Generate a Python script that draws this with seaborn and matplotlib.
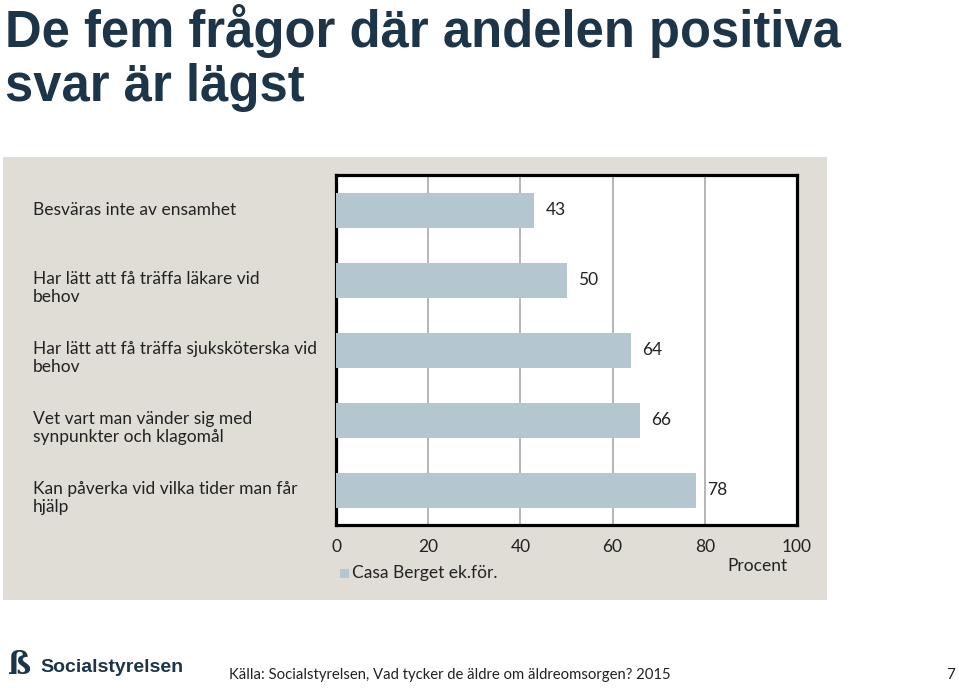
import matplotlib
matplotlib.use("Agg")
import matplotlib.pyplot as plt
import seaborn as sns
import pandas as pd
from matplotlib.patches import Rectangle

categories = [
    "Besväras inte av ensamhet",
    "Har lätt att få träffa läkare vid\nbehov",
    "Har lätt att få träffa sjuksköterska vid\nbehov",
    "Vet vart man vänder sig med\nsynpunkter och klagomål",
    "Kan påverka vid vilka tider man får\nhjälp",
]
values = [43, 50, 64, 66, 78]
series_name = "Casa Berget ek.för."
x_ticks = [0, 20, 40, 60, 80, 100]

title = "De fem frågor där andelen positiva\nsvar är lägst"
source = "Källa: Socialstyrelsen, Vad tycker de äldre om äldreomsorgen? 2015"

sns.set_theme(style="white")
plt.rcParams["font.family"] = ["Lato", "DejaVu Sans"]

W, H = 959, 688
fig = plt.figure(figsize=(W / 100, H / 100), dpi=100)
fig.patch.set_facecolor("white")

def fx(px):
    return px / W

def fy(py):
    return 1 - py / H

# gray panel
fig.patches.append(Rectangle((fx(3), fy(600)), fx(827) - fx(3), fy(157) - fy(600),
                             transform=fig.transFigure, facecolor="#e0ddd7",
                             edgecolor="none", zorder=-10))

ax = fig.add_axes([fx(336), fy(525), fx(797) - fx(336), fy(175) - fy(525)])
ax.set_zorder(2)
ax.set_facecolor("white")

df = pd.DataFrame({"cat": categories, "val": values})
sns.barplot(data=df, x="val", y="cat", orient="h", color="#b4c7d0",
            saturation=1, width=0.5, linewidth=0, ax=ax, zorder=3)
ax.set_xlim(0, 100)
ax.set_ylim(4.5, -0.5)
ax.set_xticks(x_ticks)
ax.set_xticklabels([str(t) for t in x_ticks], fontsize=12.5, color="#222222")
ax.tick_params(axis="x", length=0, pad=10)
ax.set_yticks([])
ax.set_xlabel("")
ax.set_ylabel("")
for t in x_ticks[1:-1]:
    ax.axvline(t, color="#b0b0b0", lw=1.3, zorder=1)
for s in ax.spines.values():
    s.set_visible(True)
    s.set_color("black")
    s.set_linewidth(2.3)

for i, v in enumerate(values):
    ax.text(v + 2.4, i, str(v), va="center", ha="left", fontsize=12.5, color="#222222")

for i, c in enumerate(categories):
    y = 209 + 70 * i
    fig.text(fx(33), fy(y + (9 if "\n" in c else 1)), c, ha="left", va="center",
             fontsize=12.5, color="#222222", linespacing=1.18)

# legend
fig.patches.append(Rectangle((fx(340), fy(578)), fx(9), 9 / H,
                             transform=fig.transFigure, facecolor="#b4c7d0",
                             edgecolor="none", zorder=1))
fig.text(fx(352), fy(573), series_name, ha="left", va="center", fontsize=12.5, color="#222222")
fig.text(fx(757), fy(566), "Procent", ha="center", va="center", fontsize=12.5, color="#222222")

# title
fig.text(fx(5), fy(4), title, ha="left", va="top", fontsize=36.5, fontweight="bold",
         color="#1c3549", family=["Liberation Sans", "DejaVu Sans"], linespacing=1.14)

# footer
fig.text(fx(8), fy(666), "ß", ha="left", va="center", fontsize=22, fontweight="bold",
         color="#1c3549", family=["DejaVu Serif"])
fig.text(fx(40), fy(667), "Socialstyrelsen", ha="left", va="center", fontsize=14,
         fontweight="bold", color="#1c3549", family=["Liberation Sans", "DejaVu Sans"])
fig.text(fx(229), fy(675), source, ha="left", va="center", fontsize=10.7, color="#222222")
fig.text(fx(955), fy(675), "7", ha="right", va="center", fontsize=11, color="#222222")

fig.savefig("out.png", dpi=100, facecolor="white")
